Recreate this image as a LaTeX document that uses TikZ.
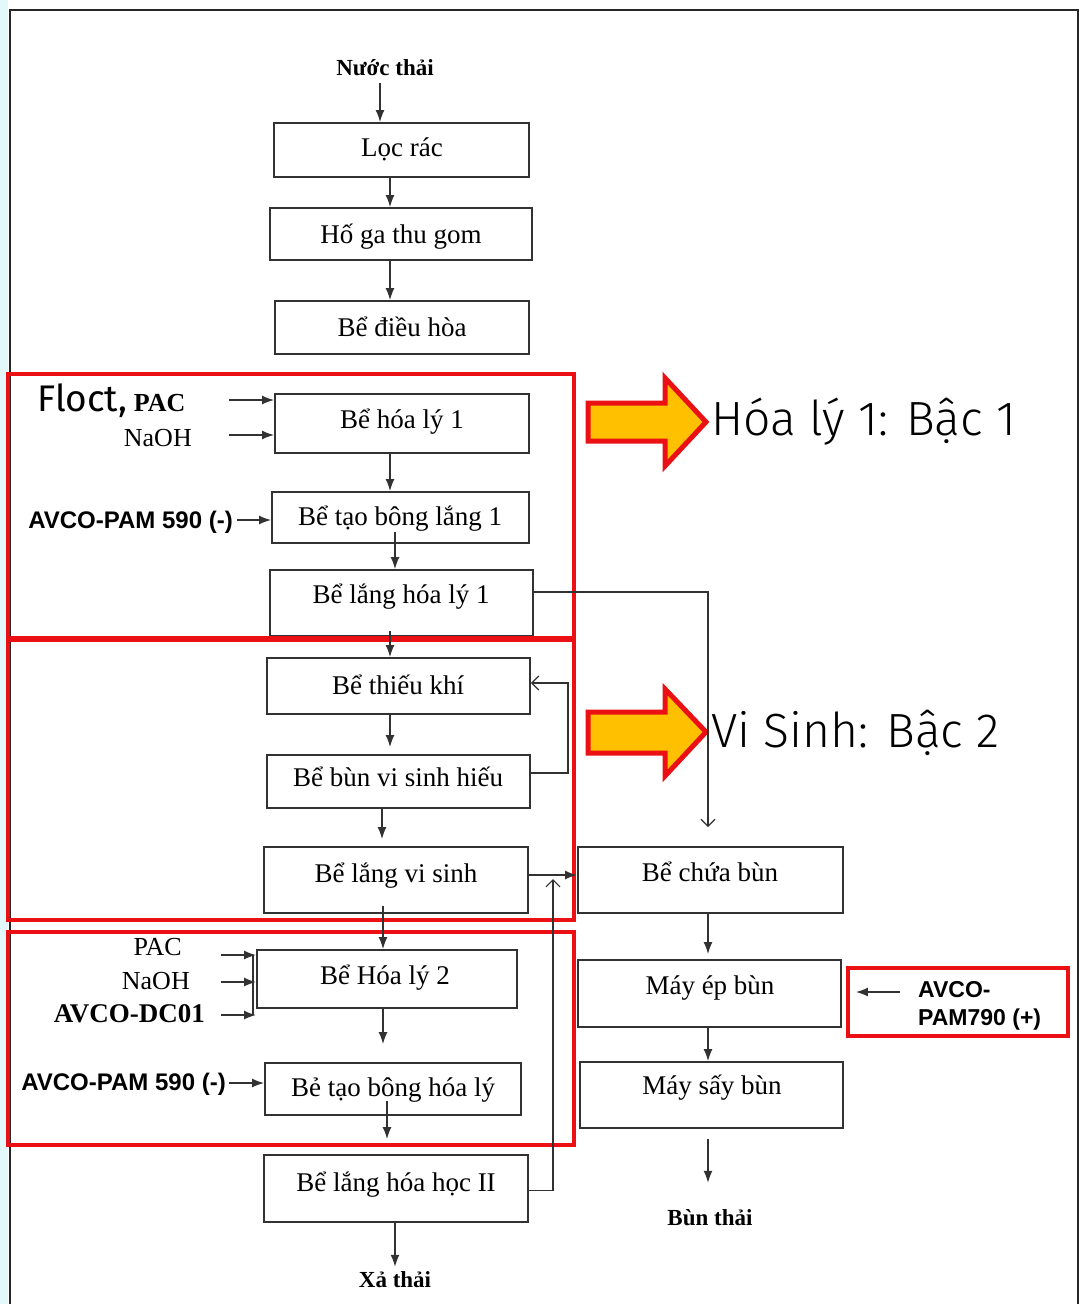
\documentclass[tikz,border=0pt]{standalone}
\usepackage{fontspec}
\setmainfont{Liberation Serif}
\setsansfont{Liberation Sans}
\newfontfamily\dinfont{Fira Sans Light}
\newfontfamily\dinreg{Fira Sans}
\usetikzlibrary{arrows.meta}
\definecolor{frameRed}{RGB}{234,16,20}
\definecolor{arrowYellow}{RGB}{255,192,0}
\definecolor{lineGray}{RGB}{50,50,50}
\definecolor{stripCyan}{RGB}{226,248,251}
\begin{document}
\begin{tikzpicture}[x=1pt,y=-1pt,
  box/.style={draw=lineGray, line width=1.9pt, inner sep=0pt},
  lbl/.style={font=\fontsize{27}{29}\selectfont, inner sep=0pt, text height=18pt, text depth=2pt},
  chem/.style={font=\fontsize{26}{28}\selectfont, inner sep=0pt, text height=18pt, text depth=6pt},
  chemsans/.style={font=\sffamily\bfseries\fontsize{24}{28}\selectfont, inner sep=0pt},
  endlbl/.style={font=\bfseries\fontsize{23}{26}\selectfont, inner sep=0pt, text height=16pt, text depth=2pt},
  conn/.style={draw=lineGray, line width=1.4pt, -{Latex[length=12pt,width=9pt]}},
  oconn/.style={draw=lineGray, line width=1.2pt, -{Straight Barb[length=7pt,width=14pt]}},
  plainconn/.style={draw=lineGray, line width=1.4pt},
  redbox/.style={draw=frameRed, line width=4.5pt, inner sep=0pt},
  bigarrow/.style={fill=arrowYellow, draw=frameRed, line width=5pt, line join=miter},
  bigtext/.style={font=\dinfont\fontsize{48}{52}\selectfont, inner sep=0pt, anchor=west}
]
\useasboundingbox (0,0) rectangle (1087,1304);
\fill[white] (0,0) rectangle (1087,1304);
\fill[stripCyan] (0,0) rectangle (8,1304);
% outer frame
\draw[black!85, line width=2.5pt] (10,1320) -- (10,10) -- (1078,10) -- (1078,1320);

% main column boxes
\node[box, minimum width=255pt, minimum height=54pt] (loc) at (401.5,150) {};
\node[lbl] (loc-t) at (402,148) {Lọc rác};
\node[box, minimum width=262pt, minimum height=52pt] (hoga) at (401,234) {};
\node[lbl] (hoga-t) at (401,235) {Hố ga thu gom};
\node[box, minimum width=254pt, minimum height=53pt] (dieuhoa) at (402,327.5) {};
\node[lbl] (dieuhoa-t) at (402,328) {Bể điều hòa};
\node[box, minimum width=254pt, minimum height=59pt] (hoaly1) at (402,423.5) {};
\node[lbl] (hoaly1-t) at (402,420) {Bể hóa lý 1};
\node[box, minimum width=257pt, minimum height=51pt] (taobong1) at (400.5,517.5) {};
\node[lbl] (taobong1-t) at (400,517) {Bể tạo bông lắng 1};
\node[box, minimum width=263pt, minimum height=66pt] (langhl1) at (401.5,603) {};
\node[lbl] (langhl1-t) at (401,595) {Bể lắng hóa lý 1};
\node[box, minimum width=263pt, minimum height=56pt] (thieukhi) at (398.5,686) {};
\node[lbl] (thieukhi-t) at (398,686) {Bể thiếu khí};
\node[box, minimum width=263pt, minimum height=53pt] (bunvs) at (398.5,781.5) {};
\node[lbl] (bunvs-t) at (398,778) {Bể bùn vi sinh hiếu};
\node[box, minimum width=264pt, minimum height=66pt] (langvs) at (396,880) {};
\node[lbl] (langvs-t) at (396,874) {Bể lắng vi sinh};
\node[box, minimum width=260pt, minimum height=58pt] (hoaly2) at (387,979) {};
\node[lbl] (hoaly2-t) at (385,976) {Bể Hóa lý 2};
\node[box, minimum width=256pt, minimum height=52pt] (taobonghl) at (393,1089) {};
\node[lbl] (taobonghl-t) at (393,1088) {Bẻ tạo bông hóa lý};
\node[box, minimum width=264pt, minimum height=67pt] (langhh2) at (396,1188.5) {};
\node[lbl] (langhh2-t) at (396,1183) {Bể lắng hóa học II};

% right column
\node[box, minimum width=265pt, minimum height=66pt] (chuabun) at (710.5,880) {};
\node[lbl] (chuabun-t) at (710,873) {Bể chứa bùn};
\node[box, minimum width=263pt, minimum height=67pt] (epbun) at (709.5,993.5) {};
\node[lbl] (epbun-t) at (710,986) {Máy ép bùn};
\node[box, minimum width=263pt, minimum height=66pt] (saybun) at (711.5,1095) {};
\node[lbl] (saybun-t) at (712,1086) {Máy sấy bùn};

% end labels
\node[endlbl] (nuoc) at (385,68) {Nước thải};
\node[endlbl] (xathai) at (395,1280) {Xả thải};
\node[endlbl] (bunthai) at (710,1218) {Bùn thải};

% chemical labels
\node[chem, anchor=west] (floct) at (37,405) {{\dinreg\fontsize{37}{39}\selectfont Floct,} \textbf{PAC}};
\node[chem, anchor=east] (naoh1) at (192,440) {NaOH};
\node[chemsans, anchor=east] (pam1) at (233,522) {AVCO-PAM 590 (-)};
\node[chem, anchor=east] (pac2) at (182,949) {PAC};
\node[chem, anchor=east] (naoh2) at (190,983) {NaOH};
\node[chem, anchor=east, font=\bfseries\fontsize{27}{29}\selectfont] (dc01) at (205,1016) {AVCO-DC01};
\node[chemsans, anchor=east] (pam2) at (226,1084) {AVCO-PAM 590 (-)};
\node[chemsans, anchor=west, align=left, font=\sffamily\bfseries\fontsize{23}{28}\selectfont] (pam790) at (918,1006) {AVCO-\\PAM790 (+)};

% red frames
\node[redbox, minimum width=566pt, minimum height=264pt] (rb1) at (291,506) {};
\node[redbox, minimum width=566pt, minimum height=280pt] (rb2) at (291,780) {};
\node[redbox, minimum width=566pt, minimum height=213pt] (rb3) at (291,1038.5) {};
\node[redbox, minimum width=220pt, minimum height=68pt] (rb4) at (958,1002) {};

% big arrows
\draw[bigarrow] (588,403) -- (665,403) -- (665,378) -- (706,422) -- (665,466) -- (665,441) -- (588,441) -- cycle;
\node[bigtext] (stage1) at (711,422) {Hóa lý 1: Bậc 1};
\draw[bigarrow] (588,712) -- (665,712) -- (665,689) -- (706,732) -- (665,776) -- (665,753) -- (588,753) -- cycle;
\node[bigtext] (stage2) at (711,733) {Vi Sinh: Bậc 2};

% main flow connectors
\draw[conn] ([xshift=-5pt,yshift=-6pt]nuoc.south) -- ([xshift=-21.5pt]loc.north);
\draw[conn] ([xshift=-11.5pt]loc.south) -- ([xshift=-11pt]hoga.north);
\draw[conn] ([xshift=-11pt]hoga.south) -- ([xshift=-12pt]dieuhoa.north);
\draw[conn] ([xshift=-12pt]hoaly1.south) -- ([xshift=-10.5pt]taobong1.north);
\draw[conn] ([xshift=-5.5pt,yshift=12pt]taobong1.south) -- ([xshift=-6.5pt]langhl1.north);
\draw[conn] ([xshift=-11.5pt,yshift=6pt]langhl1.south) -- ([xshift=-8.5pt]thieukhi.north);
\draw[conn] ([xshift=-8.5pt]thieukhi.south) -- ([xshift=-8.5pt,yshift=7pt]bunvs.north);
\draw[conn] ([xshift=-16.5pt]bunvs.south) -- ([xshift=-14pt,yshift=7pt]langvs.north);
\draw[conn] ([xshift=-13pt,yshift=8pt]langvs.south) -- ([xshift=-4pt]hoaly2.north);
\draw[conn] ([xshift=-4pt]hoaly2.south) -- ([xshift=-10pt,yshift=18pt]taobonghl.north);
\draw[conn] ([xshift=-6pt,yshift=15pt]taobonghl.south) -- ([xshift=-9pt,yshift=15pt]langhh2.north);
\draw[conn] ([xshift=-1pt]langhh2.south) -- ([yshift=4pt]xathai.north);
\draw[conn] ([xshift=-2.5pt]chuabun.south) -- ([xshift=-1.5pt,yshift=5pt]epbun.north);
\draw[conn] ([xshift=-1.5pt]epbun.south) -- ([xshift=-3.5pt]saybun.north);
\draw[conn] ([xshift=-3.5pt,yshift=-10pt]saybun.south) -- ([xshift=-2pt,yshift=26pt]bunthai.north);

% side connectors
\draw[oconn] ([yshift=11pt]langhl1.east) -| ([xshift=-2.5pt,yshift=19pt]chuabun.north);
\draw[oconn] ([yshift=8.5pt]bunvs.east) -- ++(37,0) |- ([yshift=3pt]thieukhi.east);
\draw[conn] ([yshift=5pt]langvs.east) -- ([yshift=5pt]chuabun.west);
\coordinate (merge) at (553,879);
\draw[oconn] ([yshift=-2pt]langhh2.east) -| (merge);

% chemical dosing arrows
\draw[conn] ([xshift=-45pt,yshift=23.5pt]hoaly1.west) -- ([yshift=23.5pt]hoaly1.west);
\draw[conn] ([xshift=-45pt,yshift=-11.5pt]hoaly1.west) -- ([yshift=-11.5pt]hoaly1.west);
\draw[conn] ([xshift=4pt,yshift=2pt]pam1.east) -- ([yshift=2pt]pam1.east -| taobong1.west);
\draw[conn] ([xshift=-35pt,yshift=24pt]hoaly2.west) -- ([yshift=24pt]hoaly2.west);
\draw[conn] ([xshift=-35pt,yshift=-3pt]hoaly2.west) -- ([yshift=-3pt]hoaly2.west);
\draw[conn] ([xshift=-35pt,yshift=-36pt]hoaly2.west) -- ([yshift=-36pt]hoaly2.west);
\draw[plainconn] ([xshift=-3pt,yshift=24pt]hoaly2.west) -- ([xshift=-3pt,yshift=-36pt]hoaly2.west);
\draw[conn] ([xshift=3pt,yshift=1pt]pam2.east) -- ([yshift=1pt]pam2.east -| taobonghl.west);
\draw[conn] ([xshift=-18pt,yshift=14pt]pam790.west) -- ([xshift=14pt,yshift=1.5pt]epbun.east);
\end{tikzpicture}
\end{document}
